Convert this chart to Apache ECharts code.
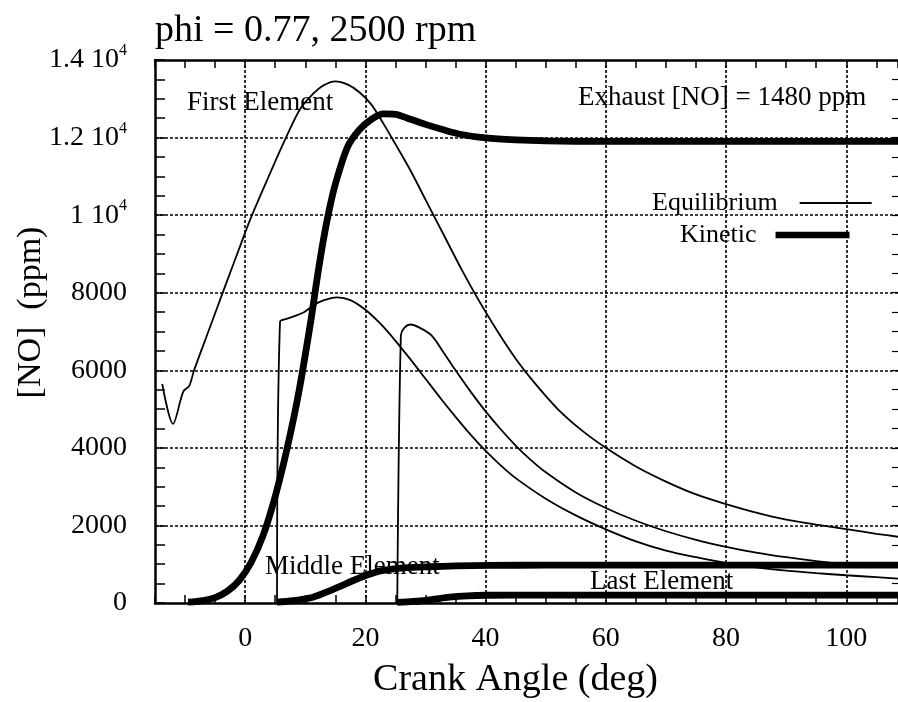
<!DOCTYPE html>
<html><head><meta charset="utf-8">
<script src="https://cdn.jsdelivr.net/npm/echarts@6/dist/echarts.min.js"></script>
<style>html,body{margin:0;padding:0;background:#fff}#c{width:898px;height:702px}</style>
</head><body><div id="c"></div>
<script>
// ---- text ----
const titleText = 'phi = 0.77, 2500 rpm';
const xName = 'Crank Angle (deg)';
const yName = '[NO]  (ppm)';
const noteFirst = 'First Element';
const noteMiddle = 'Middle Element';
const noteLast = 'Last Element';
const noteExhaust = 'Exhaust [NO] = 1480 ppm';

// ---- ticks ----
const xTickValues = [0, 20, 40, 60, 80, 100];
const yTickValues = [0, 2000, 4000, 6000, 8000, 10000, 12000, 14000];
const yTickMantissa = ['0', '2000', '4000', '6000', '8000', '1', '1.2', '1.4'];
const yTickExponent = ['', '', '', '', '', '4', '4', '4'];
const gridX = [0, 20, 40, 60, 80, 100];
const gridY = [2000, 4000, 6000, 8000, 10000, 12000];

// ---- data: crank angle (deg) / [NO] (ppm) ----
const eqFirstX = [-13.8, -12, -10.3, -9.3, -8.5, -6, -3.5, 0, 1, 3.5, 6.5, 9, 11, 13, 15, 17, 19, 21, 23, 25, 27.5, 30, 33, 36, 38.5, 42, 45, 48, 52, 56, 60, 65, 70, 75, 80, 85, 90, 95, 100, 105, 109];
const eqFirstY = [5650, 4620, 5450, 5600, 6000, 7050, 8100, 9550, 9950, 10850, 11900, 12700, 13080, 13340, 13450, 13370, 13170, 12850, 12360, 11830, 11150, 10400, 9500, 8600, 7900, 7000, 6300, 5700, 5000, 4450, 4000, 3520, 3130, 2800, 2550, 2330, 2150, 2020, 1905, 1785, 1700];

const eqMiddleX = [5.3, 5.8, 7, 9.7, 11.3, 13, 15.3, 17.5, 20, 22.5, 25, 27.5, 30, 32.5, 35, 37.5, 40, 42.5, 45, 50, 55, 60, 65, 70, 75, 80, 85, 90, 95, 100, 105, 109];
const eqMiddleY = [0, 7250, 7330, 7490, 7670, 7800, 7880, 7810, 7560, 7200, 6760, 6280, 5780, 5280, 4800, 4340, 3920, 3550, 3220, 2690, 2260, 1900, 1590, 1350, 1180, 1030, 920, 835, 770, 715, 665, 625];

const eqLastX = [25.3, 25.9, 26.5, 27.5, 29, 31, 33, 35, 37.5, 40, 42.5, 45, 47.5, 50, 55, 60, 65, 70, 75, 80, 85, 90, 95, 100, 105, 109];
const eqLastY = [0, 6900, 7100, 7180, 7100, 6900, 6460, 6000, 5450, 4940, 4480, 4060, 3690, 3370, 2850, 2450, 2120, 1850, 1630, 1450, 1300, 1180, 1080, 1000, 960, 940];

const kinFirstX = [-9.5, -7, -5, -3, -1, 1, 3, 5, 7, 9, 11, 12, 13, 14, 15, 17, 19, 21, 23, 25, 27, 30, 33, 36, 40, 45, 50, 60, 80, 109];
const kinFirstY = [20, 60, 140, 300, 580, 1050, 1750, 2750, 4000, 5500, 7350, 8400, 9350, 10150, 10800, 11750, 12200, 12470, 12610, 12600, 12500, 12340, 12200, 12080, 11990, 11940, 11915, 11900, 11900, 11900];

const kinMiddleX = [5.3, 8, 11.3, 13.5, 15.8, 18, 20.3, 22.5, 25.3, 28, 30.8, 35, 40.8, 50, 109];
const kinMiddleY = [20, 60, 150, 280, 430, 580, 720, 830, 890, 920, 935, 955, 970, 975, 975];

const kinLastX = [25.3, 28, 31, 34, 37, 40, 50, 109];
const kinLastY = [15, 40, 90, 150, 185, 200, 205, 205];

const zip = (xs, ys) => xs.map((x, i) => [x, ys[i]]);

const FONT = 'Liberation Serif';
const chart = echarts.init(document.getElementById('c'), null, {renderer: 'canvas'});

function lineSeries(name, xs, ys, width) {
  return {
    name: name, type: 'line', data: zip(xs, ys),
    xAxisIndex: 0, yAxisIndex: 0,
    symbol: 'none', showSymbol: false,
    smooth: 0.3,
    lineStyle: {color: '#000', width: width},
    itemStyle: {color: '#000'},
    z: 3, animation: false
  };
}

const axisCommon = {
  type: 'value', splitLine: {show: false},
  axisLine: {show: true, onZero: false, lineStyle: {color: '#000', width: 2.5}},
};

const noteFont = '27px "Liberation Serif"';

const option = {
  animation: false,
  backgroundColor: '#fff',
  textStyle: {fontFamily: FONT, color: '#000'},
  title: {
    text: titleText, left: 150, top: 7,
    textStyle: {fontFamily: FONT, fontSize: 38, fontWeight: 'normal', color: '#000'}
  },
  grid: {left: 155, right: 0, top: 60, bottom: 99, containLabel: false, outerBoundsMode: 'none'},
  legend: [
    {data: ['Equilibrium'], left: 652, top: 190, padding: 0, align: 'right', selectedMode: false,
     icon: 'rect', itemWidth: 72, itemHeight: 1.8,
     textStyle: {fontFamily: FONT, fontSize: 26, color: '#000', padding: [0, 17, 0, 0]}},
    {data: ['Kinetic'], left: 680, top: 222, padding: 0, align: 'right', selectedMode: false,
     icon: 'rect', itemWidth: 74, itemHeight: 6.5,
     textStyle: {fontFamily: FONT, fontSize: 26, color: '#000', padding: [0, 14, 0, 0]}}
  ],
  xAxis: [
    Object.assign({}, axisCommon, {
      position: 'bottom', min: -15, max: 108.6, interval: 5,
      axisTick: {show: true, inside: true, length: 8, lineStyle: {color: '#000', width: 1.5}},
      axisLabel: {
        fontFamily: FONT, fontSize: 28, color: '#000', margin: 22,
        showMinLabel: true, showMaxLabel: true,
        formatter: v => (xTickValues.indexOf(Math.round(v * 1000) / 1000) >= 0 ? String(v) : '')
      },
      name: xName, nameLocation: 'middle', nameGap: 58,
      nameTextStyle: {fontFamily: FONT, fontSize: 38, color: '#000', padding: [0, 22, 0, 0]}
    }),
    Object.assign({}, axisCommon, {
      position: 'top', min: -15, max: 108.6, interval: 5,
      axisTick: {show: true, inside: true, length: 8, lineStyle: {color: '#000', width: 1.5}},
      axisLabel: {show: false}
    })
  ],
  yAxis: [
    Object.assign({}, axisCommon, {
      position: 'left', min: 0, max: 14000, interval: 500,
      axisTick: {show: true, inside: true, length: 10, lineStyle: {color: '#000', width: 1.5}},
      axisLabel: {
        margin: 28, color: '#000',
        formatter: v => {
          const i = yTickValues.indexOf(v);
          if (i < 0) return '';
          if (yTickExponent[i]) return '{a|' + yTickMantissa[i] + ' 10}{s|' + yTickExponent[i] + '}';
          return '{a|' + yTickMantissa[i] + '}';
        },
        rich: {
          a: {fontFamily: FONT, fontSize: 28, lineHeight: 34, color: '#000'},
          s: {fontFamily: FONT, fontSize: 16, lineHeight: 16, verticalAlign: 'top', color: '#000'}
        }
      },
      name: yName, nameLocation: 'middle', nameGap: 107, nameRotate: 90, nameMoveOverlap: false,
      nameTextStyle: {fontFamily: FONT, fontSize: 34, color: '#000', padding: [0, 0, 0, 38]}
    }),
    Object.assign({}, axisCommon, {
      position: 'right', min: 0, max: 14000, interval: 500,
      axisLine: {show: false, onZero: false},
      axisTick: {show: true, inside: true, length: 6, lineStyle: {color: '#000', width: 1.2}},
      axisLabel: {show: false}
    })
  ],
  graphic: [
    {type: 'text', x: 187, y: 103, z: 0, style: {text: noteFirst, font: noteFont, fill: '#000', align: 'left', verticalAlign: 'middle'}},
    {type: 'text', x: 578, y: 98, z: 0, style: {text: noteExhaust, font: noteFont, fill: '#000', align: 'left', verticalAlign: 'middle'}},
    {type: 'text', x: 265, y: 567, z: 0, style: {text: noteMiddle, font: noteFont, fill: '#000', align: 'left', verticalAlign: 'middle'}},
    {type: 'text', x: 590, y: 582, z: 0, style: {text: noteLast, font: noteFont, fill: '#000', align: 'left', verticalAlign: 'middle'}}
  ],
  series: [
    {
      name: 'grid', type: 'line', data: [], xAxisIndex: 0, yAxisIndex: 0, z: 1, silent: true,
      markLine: {
        silent: true, symbol: 'none', animation: false, label: {show: false},
        lineStyle: {color: '#000', width: 1.6, type: [3, 2]},
        data: gridX.map(v => ({xAxis: v})).concat(gridY.map(v => ({yAxis: v})))
      }
    },
    lineSeries('Equilibrium', eqFirstX, eqFirstY, 1.8),
    lineSeries('Equilibrium', eqMiddleX, eqMiddleY, 1.8),
    lineSeries('Equilibrium', eqLastX, eqLastY, 1.8),
    lineSeries('Kinetic', kinFirstX, kinFirstY, 6.8),
    lineSeries('Kinetic', kinMiddleX, kinMiddleY, 6.8),
    lineSeries('Kinetic', kinLastX, kinLastY, 6.8)
  ]
};
chart.setOption(option);
</script>
</body></html>
